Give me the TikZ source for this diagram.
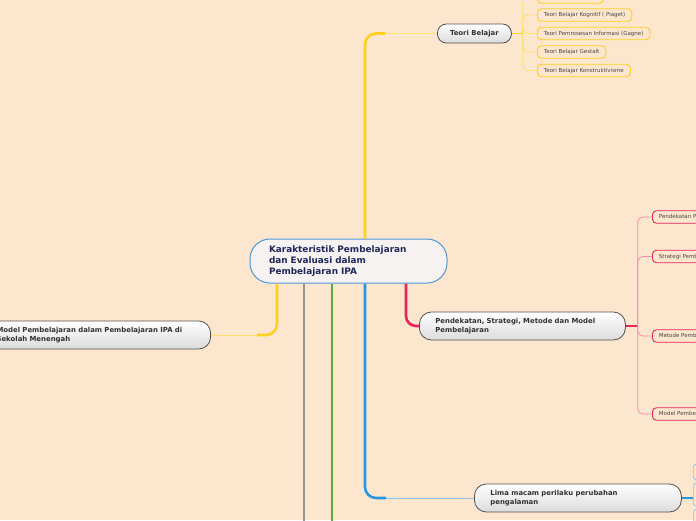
\documentclass[tikz,border=0pt]{standalone}
\usepackage{fontspec}
\setmainfont{DejaVu Sans}
\usetikzlibrary{calc}
\definecolor{bg}{RGB}{253,230,206}
\definecolor{yellowc}{RGB}{255,208,30}
\definecolor{ypale}{RGB}{255,222,110}
\definecolor{redc}{RGB}{232,36,90}
\definecolor{pinkpale}{RGB}{245,140,165}
\definecolor{bluec}{RGB}{40,150,225}
\definecolor{bluepale}{RGB}{140,195,235}
\definecolor{grayc}{RGB}{150,150,150}
\definecolor{greenc}{RGB}{90,170,70}
\definecolor{centerborder}{RGB}{80,150,215}
\definecolor{centerfill}{RGB}{246,242,242}
\definecolor{topicborder}{RGB}{80,80,80}
\definecolor{navy}{RGB}{30,40,90}
\definecolor{textdark}{RGB}{50,50,50}
\definecolor{textsub}{RGB}{70,70,70}
\begin{document}
\begin{tikzpicture}[x=1pt,y=-1pt,
  central/.style={draw=centerborder, line width=1pt, fill=centerfill, rounded corners=20pt,
    minimum height=44pt, text width=159pt, inner xsep=19pt, inner ysep=0pt, align=left,
    font=\bfseries\fontsize{8.9}{11}\selectfont, text=navy},
  topic/.style={draw=topicborder, line width=0.8pt, rounded corners=12pt,
    top color=white, bottom color=gray!28, minimum height=28pt, inner ysep=0pt,
    align=left, font=\bfseries\fontsize{6.9}{9}\selectfont, text=textdark},
  subbox/.style={line width=0.9pt, fill=bg, rounded corners=4pt, anchor=west,
    minimum height=12.5pt, inner xsep=6.5pt, inner ysep=0pt,
    font=\fontsize{5.5}{6}\selectfont, text=textsub},
  subY/.style={subbox, draw=yellowc},
  subR/.style={subbox, draw=redc},
  subB/.style={subbox, draw=bluepale, line width=0.7pt, minimum width=40pt},
  thickline/.style={line width=2.6pt},
  thinline/.style={line width=0.8pt}
]
\useasboundingbox (0,0) rectangle (696,520);
\fill[bg] (0,0) rectangle (696,520);
\clip (0,0) rectangle (696,520);

\coordinate (gEnd) at (304,525);
\coordinate (grEnd) at (332,525);
\coordinate (xY) at (365,0);
\coordinate (xL) at (277,0);
\coordinate (xR) at (406,0);

% central node
\node[central] (c) at (348.5,261) {Karakteristik Pembelajaran\\dan Evaluasi dalam\\Pembelajaran IPA};

% main topics
\node[topic, anchor=west, minimum width=74pt, minimum height=19pt, rounded corners=9pt, align=center] (tb) at (437,33.5) {Teori Belajar};
\node[topic, anchor=west, text width=174pt, inner xsep=16pt] (pd) at (419,326)
  {Pendekatan, Strategi, Metode dan Model\\Pembelajaran};
\node[topic, anchor=west, text width=175pt, inner xsep=16pt] (lm) at (474,498)
  {Lima macam perilaku perubahan\\pengalaman};
\node[topic, anchor=east, text width=198pt, inner xsep=16pt] (ml) at (211,335)
  {Model Pembelajaran dalam Pembelajaran IPA di\\Sekolah Menengah};

% Teori Belajar children
\node[subY, minimum width=66pt] (k0) at (537,-3) {};
\node[subY] (k1) at (537,15) {Teori Belajar Kognitif ( Piaget)};
\node[subY] (k2) at (537,33.5) {Teori Pemrosesan Informasi (Gagne)};
\node[subY] (k3) at (537,52) {Teori Belajar Gestalt};
\node[subY] (k4) at (537,70.5) {Teori Belajar Konstruktivisme};

% Pendekatan children
\node[subR] (p1) at (652,217) {Pendekatan Pembelajaran};
\node[subR] (p2) at (652,256.5) {Strategi Pembelajaran};
\node[subR] (p3) at (652,336) {Metode Pembelajaran};
\node[subR] (p4) at (652,414) {Model Pembelajaran};

% Lima children (cut at right edge)
\node[subB, minimum height=17pt] (b1) at (693,472) {};
\node[subB, minimum height=24pt] (b2) at (693,494.5) {};
\node[subB, minimum height=17pt] (b3) at (693,517.5) {};

% connectors from central node
\draw[thickline, grayc] (c.south -| gEnd) -- (gEnd);
\draw[thickline, greenc] (c.south -| grEnd) -- (grEnd);

\coordinate (tbj) at ($(tb.west)+(-52,0)$);
\draw[thickline, yellowc, rounded corners=11pt] (c.north -| xY) |- (tbj);
\draw[thinline, ypale] (tbj) -- (tb.west);

\coordinate (mlj) at ($(ml.east)+(46,0)$);
\draw[thickline, yellowc, rounded corners=11pt] (c.south -| xL) |- (mlj);
\draw[thinline, ypale] (mlj) -- (ml.east);

\draw[thickline, redc, rounded corners=10pt] (c.south -| xR) |- (pd.west);

\coordinate (lmj) at ($(lm.west)+(-88,0)$);
\draw[thickline, bluec, rounded corners=11pt] (c.south -| xY) |- (lmj);
\draw[thinline, bluepale] (lmj) -- (lm.west);

% Teori Belajar sub-connectors
\coordinate (tbv) at ($(tb.east)+(11,0)$);
\draw[line width=1.4pt, yellowc] (tb.east) -- (tbv);
\foreach \k in {k0,k1,k2,k3,k4}{
  \draw[thinline, ypale, rounded corners=5pt] (tbv) |- (\k.west);
}

% Pendekatan sub-connectors
\coordinate (pdv) at ($(pd.east)+(12,0)$);
\draw[line width=1.4pt, redc] (pd.east) -- (pdv);
\foreach \k in {p1,p2,p3,p4}{
  \draw[thinline, pinkpale, rounded corners=5pt] (pdv) |- (\k.west);
}

% Lima sub-connector
\coordinate (lmv) at ($(lm.east)+(11,0)$);
\draw[line width=1.4pt, bluec] (lm.east) -- (lmv);
\end{tikzpicture}
\end{document}
